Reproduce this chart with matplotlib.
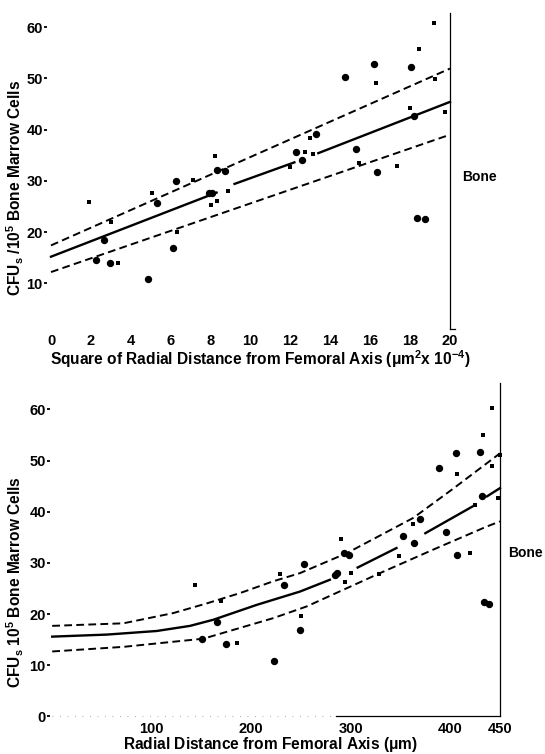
import numpy as np, matplotlib
matplotlib.use('Agg')
import matplotlib.pyplot as plt
import matplotlib.font_manager as fm

plt.rcParams['font.family'] = ['Liberation Sans', 'DejaVu Sans']
plt.rcParams['mathtext.fontset'] = 'custom'
plt.rcParams['mathtext.rm'] = 'Liberation Sans:bold'
plt.rcParams['mathtext.it'] = 'Liberation Sans:bold'
plt.rcParams['mathtext.bf'] = 'Liberation Sans:bold'

tick_font = fm.FontProperties(family=['Liberation Sans', 'DejaVu Sans'], weight='bold', size=10.5)
xlabel_font = fm.FontProperties(family=['Liberation Sans', 'DejaVu Sans'], weight='bold', size=11.2)
ylabel_font = fm.FontProperties(family=['Liberation Sans', 'DejaVu Sans'], weight='bold', size=11.2)
bone_font = fm.FontProperties(family=['Liberation Sans', 'DejaVu Sans'], weight='bold', size=10)

nan = np.nan

# ---- top panel: square of radial distance (um^2 x 10^-4) ----
sq_big_x = [2.64, 2.26, 2.95, 4.84, 5.32, 6.11, 6.25, 7.91, 8.07, 8.34, 8.72, 12.26, 12.57,
            13.30, 14.75, 15.30, 16.18, 16.32, 18.05, 18.20, 18.36, 18.77]
sq_big_y = [18.5, 14.6, 13.9, 10.8, 25.6, 16.8, 30.0, 27.6, 27.7, 32.2, 31.9, 35.7, 34.1,
            39.2, 50.2, 36.2, 52.7, 31.7, 52.2, 42.7, 22.7, 22.6]
sq_small_x = [1.92, 2.99, 3.37, 5.06, 6.30, 7.10, 8.24, 8.00, 8.34, 8.86, 11.97, 12.71, 12.97,
              13.13, 15.42, 16.29, 17.32, 18.02, 18.43, 19.22, 19.26, 19.74]
sq_small_y = [25.9, 21.9, 14.0, 27.7, 20.1, 30.2, 34.8, 25.3, 26.0, 28.0, 32.6, 35.7, 38.3,
              35.3, 33.5, 49.0, 32.9, 44.2, 55.7, 60.8, 49.8, 43.4]
sq_fit_x = [0, 8.3, nan, 9.2, 12.2, nan, 13.4, 20]
sq_fit = [15.2, 27.7, nan, 29.4, 33.6, nan, 35.4, 45.4]
sq_band_x = [0, 20]
sq_upper = [17.4, 51.9]
sq_lower = [12.2, 39.0]
sq_ticks = [0, 2, 4, 6, 8, 10, 12, 14, 16, 18, 20]

# ---- bottom panel: radial distance (um) ----
r_big_x = [151, 165.8, 174.9, 222.7, 233.2, 248.7, 252.6, 284.2, 286.6, 292.9, 298.2, 352.7,
           363.2, 369.2, 388.8, 396.2, 405.7, 407.1, 429.9, 432.0, 434.1, 439.1]
r_big_y = [15.1, 18.4, 14.1, 10.9, 25.6, 16.9, 29.8, 27.7, 28.0, 31.9, 31.6, 35.2,
           33.9, 38.5, 48.6, 36.0, 51.4, 31.6, 51.6, 43.1, 22.3, 22.0]
r_small_x = [143.7, 170, 186.2, 229, 250, 290.1, 294, 300, 328, 349, 362.5, 407,
             420, 425, 433.4, 441.8, 441.8, 448, 450]
r_small_y = [25.6, 22.5, 14.3, 27.8, 19.7, 34.6, 26.2, 28.1, 27.8, 31.3, 37.6, 47.3,
             31.9, 41.3, 55.0, 60.2, 49.0, 42.7, 51.1]
r_fit_x = [0, 55, 105, 138.5, 162, 205.5, 249, 279, nan, 307, 346, nan, 375, 425, nan, 437, 450]
r_fit = [15.6, 16.0, 16.7, 17.7, 18.9, 21.8, 24.4, 26.7, nan, 29.1, 32.9, nan, 35.8, 41.3, nan, 43.0, 44.6]
r_upper_x = [0, 71.5, 121.7, 155.5, 188.7, 222, 249, 296, 363, 403, 450]
r_upper = [17.7, 18.2, 20.2, 22.1, 24.1, 26.4, 28.0, 31.9, 38.8, 44.5, 51.4]
r_lower_x = [0, 71.5, 121.7, 152, 188.7, 222, 255.8, 329.4, 383, 436.7, 450]
r_lower = [12.7, 13.6, 14.6, 15.2, 17.3, 19.2, 21.5, 28.0, 32.6, 37.1, 38.1]
r_ticks = [100, 200, 300, 400, 450]
y_ticks_top = [10, 20, 30, 40, 50, 60]
y_ticks_bot = [0, 10, 20, 30, 40, 50, 60]

W, H = 545, 754
fig = plt.figure(figsize=(W / 100, H / 100), dpi=100)


def rect(xl, xr, yb, yt):
    return [xl / W, 1 - yb / H, (xr - xl) / W, (yb - yt) / H]


# top axes: x=0 at 51px, 19.95 px/unit ; y=0 at 334.6px, 5.126 px/unit
ax1 = fig.add_axes(rect(51 - 0.2 * 19.95, 51 + 22.5 * 19.95, 334.6 - 0.6 * 5.126, 334.6 - 64 * 5.126))
ax1.set_xlim(-0.2, 22.5)
ax1.set_ylim(0.6, 64)
ax1.plot(sq_fit_x, sq_fit, color='k', lw=1.7)
ax1.plot(sq_band_x, sq_upper, color='k', lw=1.4, dashes=(4, 2.2))
ax1.plot(sq_band_x, sq_lower, color='k', lw=1.4, dashes=(4, 2.2))
ax1.plot(sq_big_x, sq_big_y, 'o', color='k', ms=5.3, mew=0)
ax1.plot(sq_small_x, sq_small_y, 's', color='k', ms=2.3, mew=0)
ax1.plot([20, 20], [1.1, 62.7], color='k', lw=0.9)
ax1.plot([20, 20.25], [1.1, 1.1], color='k', lw=0.9)
ax1.text(20.59, 30.8, 'Bone', fontproperties=bone_font, va='center', ha='left')
ax1.set_xticks(sq_ticks)
ax1.set_xticklabels([str(t) for t in sq_ticks])
ax1.set_yticks(y_ticks_top)
ax1.set_yticklabels([str(t) for t in y_ticks_top])
ax1.tick_params(axis='x', length=0, pad=2)
ax1.tick_params(axis='y', length=2, width=1.3, pad=1)
for s in ax1.spines.values():
    s.set_visible(False)
for label in ax1.get_xticklabels() + ax1.get_yticklabels():
    label.set_fontproperties(tick_font)
fig.text(260 / W, 1 - 359 / H, 'Square of Radial Distance from Femoral Axis ($\\mu$m$^2$x 10$^{-4}$)',
         fontproperties=xlabel_font, ha='center', va='center')
fig.text(15 / W, 1 - 188 / H, 'CFU$_s$ /10$^5$ Bone Marrow Cells', fontproperties=ylabel_font,
         rotation=90, ha='center', va='center')

# bottom axes: r=0 at 52.2px, 0.995 px/um ; y=0 at 716.5px, 5.12 px/unit
ax2 = fig.add_axes(rect(52.2 - 2.2 * 0.995, 52.2 + 490 * 0.995, 716.5 + 0.3 * 5.12, 716.5 - 66 * 5.12))
ax2.set_xlim(-2.2, 490)
ax2.set_ylim(-0.3, 66)
ax2.plot(r_fit_x, r_fit, color='k', lw=1.7)
ax2.plot(r_upper_x, r_upper, color='k', lw=1.4, dashes=(4, 2.2))
ax2.plot(r_lower_x, r_lower, color='k', lw=1.4, dashes=(4, 2.2))
ax2.plot(r_big_x, r_big_y, 'o', color='k', ms=5.3, mew=0)
ax2.plot(r_small_x, r_small_y, 's', color='k', ms=2.3, mew=0)
ax2.plot([450, 450], [0, 65.1], color='k', lw=0.9)
ax2.plot([285, 450], [0, 0], color='k', lw=0.9)
ax2.plot([0, 285], [0, 0], color='#888888', lw=0.6, dashes=(1, 8))
ax2.text(458, 31.9, 'Bone', fontproperties=bone_font, va='center', ha='left')
ax2.set_xticks(r_ticks)
ax2.set_xticklabels([str(t) for t in r_ticks])
ax2.set_yticks(y_ticks_bot)
ax2.set_yticklabels([str(t) for t in y_ticks_bot])
ax2.tick_params(axis='x', length=0, pad=2.5)
ax2.tick_params(axis='y', length=2, width=1.3, pad=1)
for s in ax2.spines.values():
    s.set_visible(False)
for label in ax2.get_xticklabels() + ax2.get_yticklabels():
    label.set_fontproperties(tick_font)
fig.text(270 / W, 1 - 744 / H, 'Radial Distance from Femoral Axis ($\\mu$m)',
         fontproperties=xlabel_font, ha='center', va='center')
fig.text(15 / W, 1 - 582 / H, 'CFU$_s$ 10$^5$ Bone Marrow Cells', fontproperties=ylabel_font,
         rotation=90, ha='center', va='center')

plt.savefig('out.png', dpi=100)
